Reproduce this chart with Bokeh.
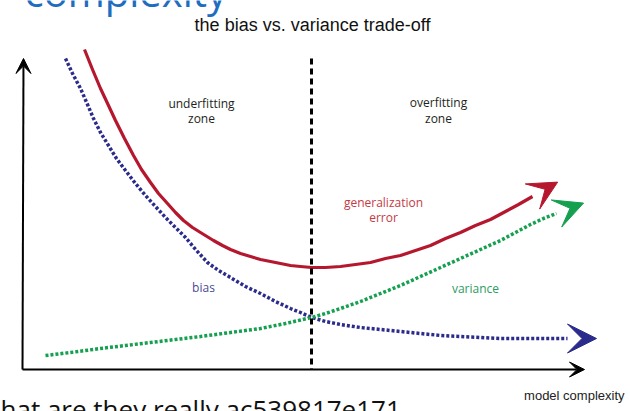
import math
from bokeh.plotting import figure
from bokeh.models import Range1d, Arrow, VeeHead
from bokeh.core.properties import value
from bokeh.embed import file_html
from bokeh.resources import INLINE

# Values (page pixel space: x to the right, y downwards)
error_x = [84, 92, 100, 108, 115, 124, 133, 141, 150, 158, 167, 175, 183, 192, 200,
           213, 222, 230, 240, 250, 260, 270, 280, 290, 300, 311, 325, 340, 355, 370,
           385, 400, 415, 430, 445, 460, 475, 490, 505, 518, 532]
error_y = [49, 69, 88, 105, 120, 138, 155, 169, 182, 193, 203, 212, 220, 227, 232,
           240, 245, 249, 253, 256, 259, 261, 263, 265, 266, 267, 267, 266, 264, 262,
           258, 255, 250, 245, 238, 232, 225, 219, 211, 204, 196]
bias_x = [65, 72, 80, 87, 93, 100, 108, 116, 125, 135, 145, 155, 165, 175, 185, 196,
          207, 218, 230, 245, 260, 275, 290, 300, 311, 325, 340, 360, 380, 400, 420,
          440, 460, 480, 500, 540, 567]
bias_y = [58, 73, 88, 104, 118, 132, 145, 158, 170, 183, 195, 206, 217, 227, 237, 250,
          262, 270, 277, 286, 293, 301, 308, 312, 317, 321, 324, 327, 329, 331, 333,
          335, 336, 337, 338, 338, 338]
var_x = [45, 70, 100, 125, 150, 175, 200, 230, 260, 285, 311, 325, 340, 360, 380, 400,
         420, 440, 460, 480, 500, 515, 530, 543, 556]
var_y = [355, 352, 348, 345, 342, 339, 336, 332, 328, 323, 317, 313, 308, 301, 293, 285,
         276, 267, 258, 249, 240, 232, 224, 218, 213]

axis_origin = (22, 369)
y_axis_top = 58
x_axis_end = 584
divider_x = 311
divider_top = 58

title_text = "the bias vs. variance trade-off"
zone_labels = ["underfitting", "zone", "overfitting", "zone"]
zone_x = [201, 201, 438, 438]
zone_y = [103, 118, 102, 118]
err_labels = ["generalization", "error"]
err_lx = [383, 383]
err_ly = [202, 217]

RED = "#b5182e"
BLUE = "#2b2b8c"
GREEN = "#15a04f"

p = figure(width=630, height=411, output_backend="svg", toolbar_location=None,
           x_range=Range1d(0, 630), y_range=Range1d(411, 0),
           x_axis_type=None, y_axis_type=None, min_border=0)
p.grid.visible = False
p.outline_line_color = None
p.background_fill_color = "white"

# axes with arrow heads
p.add_layout(Arrow(x_start=axis_origin[0], y_start=axis_origin[1],
                   x_end=axis_origin[0] + 1, y_end=y_axis_top,
                   line_width=2, line_color="black",
                   end=VeeHead(size=15, fill_color="black", line_color="black")))
p.add_layout(Arrow(x_start=axis_origin[0], y_start=axis_origin[1],
                   x_end=x_axis_end, y_end=axis_origin[1],
                   line_width=2, line_color="black",
                   end=VeeHead(size=15, fill_color="black", line_color="black")))

# curves
p.line(error_x, error_y, line_color=RED, line_width=3.2, line_join="round")
p.line(bias_x, bias_y, line_color=BLUE, line_width=3.5, line_dash="3 2", line_cap="butt")
p.line(var_x, var_y, line_color=GREEN, line_width=3.5, line_dash="3 2", line_cap="butt")


def head(xs, ys, color, size=29):
    dx = xs[-1] - xs[-2]
    dy = ys[-1] - ys[-2]
    n = math.hypot(dx, dy)
    ex = xs[-1] + dx / n * size
    ey = ys[-1] + dy / n * size
    p.add_layout(Arrow(x_start=xs[-1], y_start=ys[-1], x_end=ex, y_end=ey,
                       line_alpha=0,
                       end=VeeHead(size=size, fill_color=color, line_color=color)))


head(error_x, error_y, RED)
head(var_x, var_y, GREEN)
head(bias_x, bias_y, BLUE)

# divider
p.segment(x0=[divider_x], y0=[divider_top], x1=[divider_x], y1=[axis_origin[1]],
          line_color="black", line_width=3, line_dash="6 4")

# texts
p.text(x=[312], y=[24], text=[title_text], text_align="center", text_baseline="middle",
       text_font=value("Liberation Sans"), text_font_size="18px", text_color="#111111")
p.text(x=zone_x, y=zone_y, text=zone_labels, text_align="center", text_baseline="middle",
       text_font=value("Open Sans"), text_font_size="12px", text_color="#231f20")
p.text(x=err_lx, y=err_ly, text=err_labels, text_align="center", text_baseline="middle",
       text_font=value("Open Sans"), text_font_size="12px", text_color="#c43a45")
p.text(x=[203], y=[287], text=["bias"], text_align="center", text_baseline="middle",
       text_font=value("Open Sans"), text_font_size="12px", text_color="#4a4a96")
p.text(x=[475], y=[288], text=["variance"], text_align="center", text_baseline="middle",
       text_font=value("Open Sans"), text_font_size="12px", text_color="#2a9c62")
p.text(x=[624], y=[395], text=["model complexity"], text_align="right", text_baseline="middle",
       text_font=value("Liberation Sans"), text_font_size="13px", text_color="#222222")

# slide text fragments cut off at the top and bottom of the screenshot
p.text(x=[24], y=[-9], text=["complexity"], text_align="left", text_baseline="middle",
       text_font=value("Open Sans"), text_font_size="40px", text_color="#1f6dbf")
p.text(x=[0], y=[408], text=["hat are they really ac539817e171"], text_align="left",
       text_baseline="middle",
       text_font=value("Open Sans"), text_font_size="26px", text_color="#111111")

open("out.html", "w").write(file_html(p, INLINE))
